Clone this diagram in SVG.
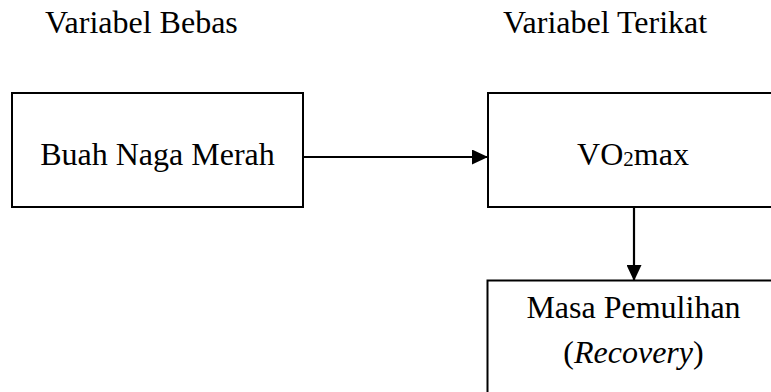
<svg xmlns="http://www.w3.org/2000/svg" width="771" height="392" viewBox="0 0 771 392">
<style>
.t{font-family:"Liberation Serif","Times New Roman",serif;font-size:32px;fill:#000}
.box{fill:#fff;stroke:#000;stroke-width:2}
.conn{stroke:#000;stroke-width:2.2;fill:none}
</style>
<defs>
<marker id="arr" markerWidth="16" markerHeight="15" refX="16" refY="7.5" orient="auto" markerUnits="userSpaceOnUse">
<path d="M0,0 L16,7.5 L0,15 Z" fill="#000"/>
</marker>
</defs>
<rect width="771" height="392" fill="#fff"/>
<g id="header-bebas"><text class="t" x="45" y="33">Variabel Bebas</text></g>
<g id="header-terikat"><text class="t" x="503" y="33">Variabel Terikat</text></g>
<g id="node-buah">
<rect class="box" x="12" y="93" width="291" height="114"/>
<text class="t" x="157.5" y="165" text-anchor="middle">Buah Naga Merah</text>
</g>
<g id="node-vo2max">
<rect class="box" x="488" y="93" width="300" height="114"/>
<text class="t" x="633" y="165" text-anchor="middle">VO<tspan font-size="21" dy="1">2</tspan><tspan dy="-1">max</tspan></text>
</g>
<g id="node-recovery">
<rect class="box" x="487.5" y="280.5" width="300" height="130"/>
<text class="t" x="633.5" y="318" text-anchor="middle">Masa Pemulihan</text>
<text class="t" x="633.5" y="363" text-anchor="middle">(<tspan font-style="italic">Recovery</tspan>)</text>
</g>
<g id="connectors">
<line class="conn" x1="303" y1="157" x2="488" y2="157" marker-end="url(#arr)"/>
<line class="conn" x1="634" y1="207" x2="634" y2="281" marker-end="url(#arr)"/>
</g>
</svg>
